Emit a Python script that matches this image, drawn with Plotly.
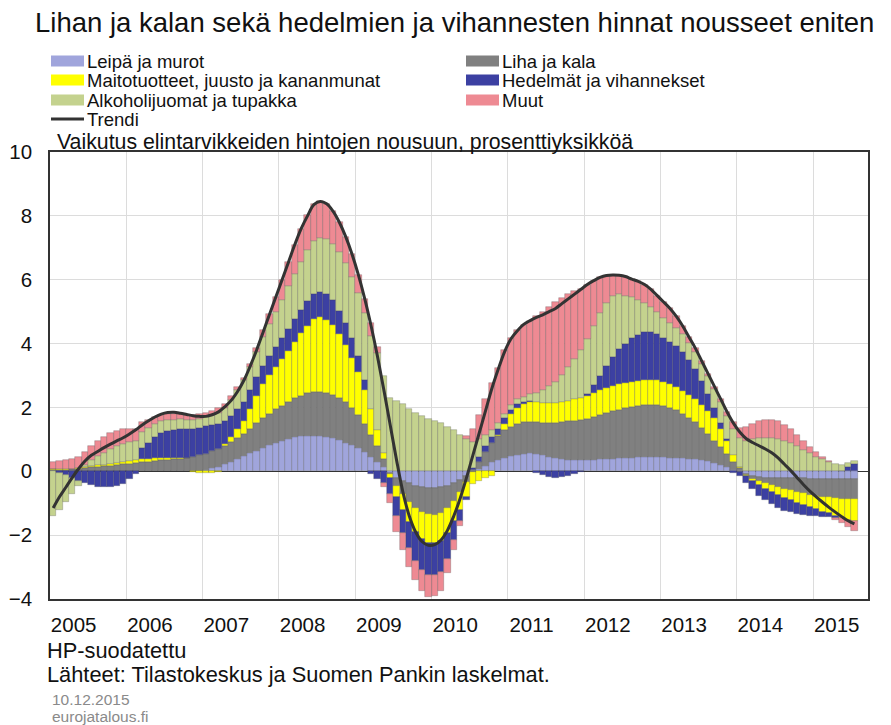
import plotly.graph_objects as go

# kuukausittaiset kontribuutiot 2005M1 - 2015M7, prosenttiyksikköä
months = [f"{2005 + i // 12}-{i % 12 + 1:02d}" for i in range(127)]

leipa = [
    0.0, 0.0, 0.0, 0.0, 0.0, 0.0, 0.0, 0.0, 0.0, 0.0, 0.0, 0.0,
    0.0, 0.0, 0.0, 0.0, 0.0, 0.0, 0.0, 0.0, 0.0, 0.0, 0.0, 0.02,
    0.05, 0.10, 0.15, 0.22, 0.30, 0.38, 0.47, 0.56, 0.65, 0.74, 0.82, 0.90,
    0.96, 1.02, 1.07, 1.10, 1.12, 1.12, 1.10, 1.07, 1.03, 0.97, 0.90, 0.82,
    0.72, 0.60, 0.45, 0.30, 0.12, -0.05, -0.20, -0.30, -0.38, -0.45, -0.50, -0.52,
    -0.52, -0.50, -0.45, -0.37, -0.27, -0.15, -0.03, 0.08, 0.18, 0.28, 0.36, 0.43,
    0.48, 0.52, 0.55, 0.56, 0.54, 0.50, 0.45, 0.41, 0.38, 0.36, 0.35, 0.35,
    0.35, 0.36, 0.37, 0.38, 0.40, 0.41, 0.42, 0.43, 0.44, 0.45, 0.45, 0.45,
    0.44, 0.43, 0.42, 0.41, 0.40, 0.38, 0.35, 0.31, 0.26, 0.20, 0.13, 0.05,
    -0.03, -0.10, -0.15, -0.18, -0.20, -0.21, -0.22, -0.22, -0.22, -0.22, -0.22, -0.23,
    -0.23, -0.24, -0.24, -0.25, -0.25, -0.25, -0.25,
]
liha = [
    0.03, 0.04, 0.05, 0.06, 0.08, 0.10, 0.12, 0.14, 0.16, 0.18, 0.20, 0.22,
    0.24, 0.26, 0.28, 0.30, 0.32, 0.34, 0.35, 0.37, 0.40, 0.43, 0.46, 0.48,
    0.50, 0.52, 0.55, 0.58, 0.62, 0.66, 0.70, 0.78, 0.86, 0.93, 0.99, 1.05,
    1.10, 1.16, 1.22, 1.27, 1.32, 1.36, 1.38, 1.38, 1.36, 1.32, 1.26, 1.17,
    1.05, 0.88, 0.70, 0.50, 0.25, -0.05, -0.25, -0.42, -0.58, -0.70, -0.78, -0.83,
    -0.84, -0.80, -0.70, -0.55, -0.38, -0.20, 0.03, 0.22, 0.42, 0.60, 0.74, 0.85,
    0.92, 0.96, 0.98, 0.99, 1.00, 1.02, 1.05, 1.10, 1.15, 1.20, 1.24, 1.27,
    1.30, 1.35, 1.40, 1.44, 1.48, 1.52, 1.55, 1.58, 1.60, 1.62, 1.62, 1.62,
    1.60, 1.56, 1.50, 1.40, 1.28, 1.15, 1.00, 0.85, 0.70, 0.55, 0.40, 0.25,
    0.10, -0.03, -0.08, -0.13, -0.18, -0.23, -0.28, -0.33, -0.38, -0.42, -0.46, -0.50,
    -0.53, -0.56, -0.58, -0.60, -0.62, -0.63, -0.63,
]
maito = [
    0.05, 0.04, 0.03, 0.02, 0.02, 0.03, 0.04, 0.05, 0.05, 0.06, 0.07, 0.08,
    0.09, 0.10, 0.10, 0.10, 0.10, 0.09, 0.07, 0.05, 0.03, 0.00, -0.03, -0.05,
    -0.06, -0.05, -0.02, 0.05, 0.15, 0.28, 0.40, 0.62, 0.85, 1.05, 1.20, 1.33,
    1.45, 1.60, 1.77, 1.95, 2.12, 2.28, 2.34, 2.30, 2.18, 2.00, 1.80, 1.57,
    1.33, 1.08, 0.80, 0.50, 0.20, -0.10, -0.35, -0.50, -0.63, -0.75, -0.85, -0.90,
    -0.90, -0.87, -0.78, -0.65, -0.55, -0.45, -0.38, -0.30, -0.22, -0.15, 0.03, 0.20,
    0.38, 0.50, 0.57, 0.62, 0.63, 0.63, 0.63, 0.63, 0.64, 0.65, 0.66, 0.67,
    0.70, 0.74, 0.78, 0.80, 0.80, 0.79, 0.78, 0.78, 0.78, 0.78, 0.78, 0.78,
    0.76, 0.74, 0.72, 0.72, 0.72, 0.72, 0.72, 0.72, 0.70, 0.58, 0.42, 0.20,
    0.05, -0.03, -0.07, -0.12, -0.16, -0.20, -0.24, -0.28, -0.31, -0.34, -0.37, -0.40,
    -0.43, -0.46, -0.50, -0.54, -0.58, -0.63, -0.67,
]
hedelmat = [
    0.00, -0.05, -0.12, -0.20, -0.30, -0.38, -0.44, -0.48, -0.50, -0.50, -0.47, -0.40,
    -0.25, -0.08, 0.35, 0.50, 0.65, 0.77, 0.85, 0.88, 0.90, 0.90, 0.88, 0.87,
    0.86, 0.83, 0.78, 0.72, 0.67, 0.62, 0.60, 0.58, 0.58, 0.59, 0.60, 0.62,
    0.65, 0.68, 0.70, 0.73, 0.77, 0.80, 0.80, 0.80, 0.78, 0.74, 0.68, 0.60,
    0.50, 0.30, -0.10, -0.25, -0.38, -0.50, -0.60, -0.70, -0.80, -0.90, -0.97, -1.00,
    -1.00, -0.97, -0.82, -0.58, -0.35, -0.10, 0.08, 0.16, 0.20, 0.20, 0.20, 0.18,
    0.15, 0.12, 0.06, 0.02, -0.05, -0.12, -0.17, -0.20, -0.19, -0.15, -0.09, -0.02,
    0.08, 0.25, 0.45, 0.68, 0.90, 1.10, 1.25, 1.37, 1.45, 1.50, 1.50, 1.45,
    1.38, 1.33, 1.28, 1.20, 1.08, 0.95, 0.75, 0.53, 0.32, 0.17, 0.06, -0.04,
    -0.12, -0.20, -0.27, -0.33, -0.37, -0.39, -0.40, -0.40, -0.38, -0.35, -0.31, -0.27,
    -0.22, -0.17, -0.12, -0.06, 0.02, 0.12, 0.22,
]
alkoholi = [
    -1.40, -1.15, -0.85, -0.50, -0.15, 0.08, 0.18, 0.28, 0.37, 0.45, 0.52, 0.57,
    0.60, 0.60, 0.50, 0.45, 0.40, 0.36, 0.33, 0.32, 0.30, 0.28, 0.27, 0.27,
    0.28, 0.30, 0.35, 0.42, 0.50, 0.60, 0.68, 0.73, 0.80, 0.90, 1.00, 1.10,
    1.22, 1.33, 1.43, 1.52, 1.60, 1.65, 1.68, 1.72, 1.78, 1.83, 1.87, 1.92,
    1.97, 2.10, 2.30, 2.40, 2.40, 2.30, 2.20, 2.10, 1.95, 1.82, 1.72, 1.65,
    1.58, 1.50, 1.40, 1.28, 1.15, 1.00, 0.80, 0.55, 0.35, 0.22, 0.17, 0.15,
    0.15, 0.16, 0.18, 0.22, 0.28, 0.40, 0.53, 0.66, 0.85, 1.05, 1.28, 1.50,
    1.70, 1.85, 1.95, 1.98, 1.90, 1.72, 1.50, 1.30, 1.10, 0.92, 0.78, 0.68,
    0.62, 0.60, 0.58, 0.56, 0.55, 0.54, 0.55, 0.57, 0.60, 0.66, 0.72, 0.82,
    0.90, 0.96, 1.00, 1.03, 1.04, 1.03, 1.00, 0.95, 0.88, 0.78, 0.67, 0.56,
    0.46, 0.38, 0.30, 0.24, 0.18, 0.14, 0.11,
]
muut = [
    0.22, 0.24, 0.27, 0.30, 0.35, 0.40, 0.45, 0.48, 0.50, 0.50, 0.48, 0.45,
    0.40, 0.35, 0.30, 0.26, 0.22, 0.20, 0.18, 0.16, 0.15, 0.14, 0.14, 0.14,
    0.14, 0.14, 0.14, 0.13, 0.12, 0.10, 0.08, 0.10, 0.13, 0.20, 0.32, 0.47,
    0.62, 0.76, 0.90, 1.03, 1.10, 1.15, 1.15, 1.10, 1.02, 0.94, 0.84, 0.72,
    0.58, 0.44, 0.40, 0.20, -0.10, -0.30, -0.50, -0.55, -0.60, -0.62, -0.66, -0.68,
    -0.66, -0.60, -0.45, -0.30, -0.15, 0.10, 0.40, 0.75, 1.10, 1.45, 1.75, 2.00,
    2.10, 2.18, 2.25, 2.30, 2.42, 2.45, 2.50, 2.50, 2.42, 2.30, 2.12, 1.93,
    1.72, 1.42, 1.12, 0.85, 0.67, 0.60, 0.60, 0.56, 0.58, 0.58, 0.57, 0.52,
    0.50, 0.44, 0.35, 0.26, 0.17, 0.11, 0.08, 0.07, 0.07, 0.09, 0.12, 0.22,
    0.32, 0.42, 0.47, 0.53, 0.57, 0.58, 0.56, 0.50, 0.43, 0.35, 0.27, 0.20,
    0.13, 0.07, 0.01, -0.08, -0.17, -0.25, -0.32,
]
trendi = [
    -1.15, -0.80, -0.50, -0.20, 0.08, 0.32, 0.50, 0.62, 0.74, 0.85, 0.95, 1.05,
    1.17, 1.30, 1.45, 1.58, 1.70, 1.79, 1.84, 1.85, 1.82, 1.78, 1.74, 1.72,
    1.72, 1.77, 1.86, 2.02, 2.22, 2.50, 2.85, 3.30, 3.80, 4.35, 4.90, 5.45,
    6.00, 6.55, 7.10, 7.60, 8.00, 8.35, 8.45, 8.38, 8.15, 7.80, 7.35, 6.80,
    6.15, 5.40, 4.55, 3.60, 2.55, 1.45, 0.35, -0.65, -1.40, -1.90, -2.20, -2.32,
    -2.30, -2.15, -1.85, -1.40, -0.85, -0.20, 0.50, 1.20, 1.90, 2.60, 3.20, 3.75,
    4.15, 4.40, 4.60, 4.72, 4.82, 4.90, 5.00, 5.10, 5.25, 5.40, 5.55, 5.70,
    5.85, 5.97, 6.07, 6.13, 6.15, 6.14, 6.10, 6.02, 5.95, 5.85, 5.70, 5.50,
    5.30, 5.10, 4.85, 4.55, 4.20, 3.85, 3.45, 3.05, 2.65, 2.25, 1.85, 1.50,
    1.22, 1.02, 0.90, 0.80, 0.70, 0.58, 0.42, 0.22, 0.02, -0.20, -0.42, -0.62,
    -0.80, -0.97, -1.13, -1.28, -1.42, -1.55, -1.65,
]
years = list(range(2005, 2016))

series = [
    ("Leipä ja murot", leipa, "#a0a5dc"),
    ("Liha ja kala", liha, "#808080"),
    ("Maitotuotteet, juusto ja kananmunat", maito, "#ffff00"),
    ("Hedelmät ja vihannekset", hedelmat, "#3c40a2"),
    ("Alkoholijuomat ja tupakka", alkoholi, "#c4d28e"),
    ("Muut", muut, "#ee8a93"),
]

# kuukausi -> desimaalivuosi (kuukauden keskikohta)
x = [int(m[:4]) + (int(m[5:]) - 0.5) / 12 for m in months]

# sivun oletusmarginaali (8 px) siirtää kuvaa, kompensoidaan
OFF = 8
W, H = 891 - OFF, 725 - OFF
L, R, T, B = 50, 868, 152, 599   # kuva-alue kohdekuvan pikseleinä
FONT = "Liberation Sans, Arial, sans-serif"


def px(xp):
    return (xp - L) / (R - L)


def py(yp):
    return (B - yp) / (B - T)


fig = go.Figure()
for name, vals, col in series:
    fig.add_trace(go.Bar(
        x=x, y=vals, name=name, width=1 / 12,
        marker=dict(color=col, line=dict(color="rgba(70,70,70,0.45)", width=0.6)),
        showlegend=False,
    ))
fig.add_trace(go.Scatter(
    x=x, y=trendi, name="Trendi", mode="lines",
    line=dict(color="#333333", width=3, shape="spline"),
    showlegend=False,
))

annotations = []
shapes = []


def text(s, xp, yp, size, color="#111111"):
    annotations.append(dict(
        text=s, x=px(xp), y=py(yp), xref="paper", yref="paper",
        xanchor="left", yanchor="middle", showarrow=False,
        font=dict(family=FONT, size=size, color=color),
    ))


text("Lihan ja kalan sekä hedelmien ja vihannesten hinnat nousseet eniten", 33, 22, 27.5)

# selite käsin, kaksi saraketta
rows = [61, 80, 100, 119]
legend_items = [
    (0, 0, series[0]), (1, 0, series[1]),
    (0, 1, series[2]), (1, 1, series[3]),
    (0, 2, series[4]), (1, 2, series[5]),
]
col_x = [51, 466]
for c, r, (name, _, colr) in legend_items:
    shapes.append(dict(
        type="rect", xref="paper", yref="paper",
        x0=px(col_x[c]), x1=px(col_x[c] + 33),
        y0=py(rows[r] + 5.5), y1=py(rows[r] - 5.5),
        fillcolor=colr, line=dict(width=0),
    ))
    text(name, col_x[c] + 34, rows[r], 18.5)
shapes.append(dict(
    type="line", xref="paper", yref="paper",
    x0=px(51), x1=px(84), y0=py(rows[3]), y1=py(rows[3]),
    line=dict(color="#333333", width=3),
))
text("Trendi", 85, rows[3], 18.5)

text("Vaikutus elintarvikkeiden hintojen nousuun, prosenttiyksikköä", 55, 142, 21.3)
text("HP-suodatettu", 45, 650, 21.8)
text("Lähteet: Tilastokeskus ja Suomen Pankin laskelmat.", 45, 674, 21.8)
text("10.12.2015", 50, 699, 15.5, "#8a8a8a")
text("eurojatalous.fi", 50, 716, 15.5, "#8a8a8a")

fig.update_layout(
    width=W, height=H,
    margin=dict(l=L - OFF, r=891 - R, t=T - OFF, b=725 - B),
    barmode="relative", bargap=0,
    plot_bgcolor="white", paper_bgcolor="white",
    font=dict(family=FONT, size=21, color="#111111"),
    annotations=annotations, shapes=shapes,
    showlegend=False,
)
fig.update_xaxes(
    range=[2005, 2015.72],
    tickmode="array",
    tickvals=[yr + 0.31 for yr in years],
    ticktext=[str(yr) for yr in years],
    ticks="", showgrid=False, zeroline=False,
    minor=dict(tickvals=years[1:], showgrid=True, gridcolor="#dcdcdc", gridwidth=1, ticks=""),
    showline=True, mirror=True, linecolor="#333333", linewidth=1.5,
    ticklabelstandoff=7, automargin=False,
    tickfont=dict(size=20.5),
)
fig.update_yaxes(
    range=[-4, 10], dtick=2, tick0=0,
    ticks="", showgrid=True, gridcolor="#dcdcdc", gridwidth=1,
    zeroline=True, zerolinecolor="#333333", zerolinewidth=1,
    showline=True, mirror=True, linecolor="#333333", linewidth=1.5,
    ticklabelstandoff=12, automargin=False,
    tickfont=dict(size=20.5),
)

fig.write_html("out.html")
